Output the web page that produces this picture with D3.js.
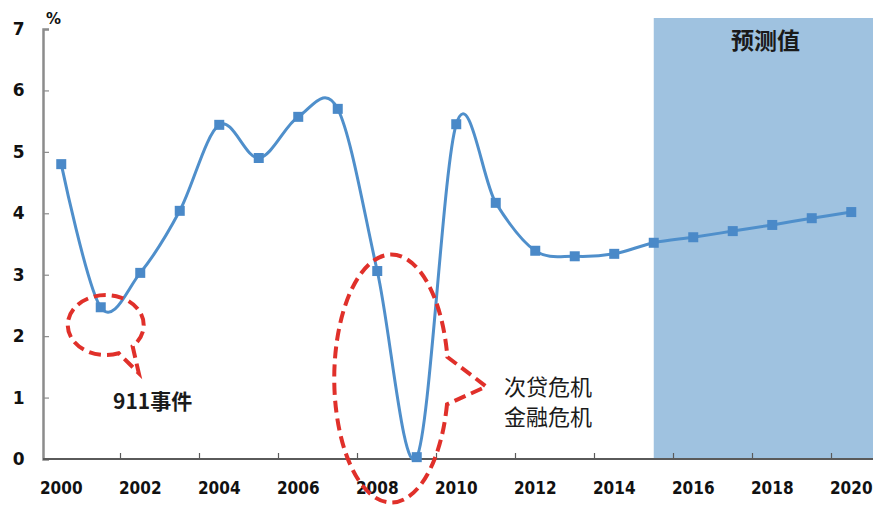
<!DOCTYPE html>
<meta charset="utf-8">
<title>GDP growth</title>
<style>
body { margin: 0; background: #fff; }
.lbl { font-family: "DejaVu Sans Condensed", "DejaVu Sans", sans-serif; font-weight: bold; fill: #111; }
.cn { font-family: "Noto Sans CJK SC", sans-serif; fill: #1a1a1a; }
</style>
<body>
<script src="https://cdn.jsdelivr.net/npm/d3@7"></script>
<script>

var years = d3.range(2000, 2021);
var growth = [4.8, 2.47, 3.03, 4.04, 5.44, 4.9, 5.57, 5.7, 3.06, 0.03, 5.45,
              4.17, 3.39, 3.3, 3.34, 3.52, 3.61, 3.71, 3.81, 3.92, 4.02];
var yTicks = [0, 1, 2, 3, 4, 5, 6, 7];
var xLabels = d3.range(2000, 2021, 2);
var forecastFrom = 2015;

var w = 878, h = 506;

var svg = d3.select("body").append("svg")
    .attr("width", w)
    .attr("height", h);

var x = d3.scaleBand().domain(years).range([41.5, 871]).padding(0);
var bw = x.bandwidth();
var cx = function(yr) { return x(yr) + bw / 2; };
var y = d3.scaleLinear().domain([0, 7]).range([459, 29]);

// forecast shading
svg.append("rect")
    .attr("x", cx(forecastFrom))
    .attr("y", y(7) - 11)
    .attr("width", x.range()[1] + 2 - cx(forecastFrom))
    .attr("height", y(0) - y(7) + 11)
    .attr("fill", "#9fc2e0");

svg.append("text")
    .attr("class", "cn")
    .attr("x", (cx(forecastFrom) + x.range()[1]) / 2 + 3)
    .attr("y", 49)
    .attr("text-anchor", "middle")
    .style("font-size", "23px")
    .style("font-weight", "bold")
    .text("预测值");

// y axis
var yAxis = svg.append("g")
    .attr("transform", "translate(43,0)")
    .call(d3.axisLeft(y).tickValues(yTicks).tickFormat(d3.format("d"))
      .tickSize(-6).tickPadding(15));
yAxis.select(".domain").attr("stroke", "#8c8c8c").attr("stroke-width", 2.5);
yAxis.selectAll(".tick line").attr("stroke", "#8c8c8c").attr("stroke-width", 1.2);
yAxis.selectAll(".tick text")
    .attr("class", "lbl")
    .style("font-family", "DejaVu Sans, sans-serif")
    .style("font-size", "17px")
    .attr("dx", "-0.2em");

svg.append("text")
    .attr("x", 46).attr("y", 24)
    .style("font-family", "DejaVu Sans, sans-serif")
    .style("font-weight", "bold")
    .style("font-size", "15px")
    .attr("fill", "#111")
    .text("%");

// x axis
var xAxisG = svg.append("g")
    .attr("transform", "translate(0," + y(0) + ")");
xAxisG.append("line")
    .attr("x1", 43).attr("x2", x.range()[1] + 2)
    .attr("stroke", "#5a5a5a").attr("stroke-width", 1.8);
xAxisG.selectAll("line.tk")
    .data(years.filter(function(d, i) { return i > 0 && i % 2 === 0; }))
  .enter().append("line")
    .attr("class", "tk")
    .attr("x1", function(d) { return x(d); })
    .attr("x2", function(d) { return x(d); })
    .attr("y1", 0).attr("y2", -6)
    .attr("stroke", "#5a5a5a").attr("stroke-width", 1.2);
xAxisG.selectAll("text")
    .data(xLabels)
  .enter().append("text")
    .attr("class", "lbl")
    .attr("x", cx)
    .attr("y", 35)
    .attr("text-anchor", "middle")
    .style("font-size", "17px")
    .text(function(d) { return d; });

// line
var data = years.map(function(yr, i) { return { year: yr, v: growth[i] }; });
var line = d3.line()
    .x(function(d) { return cx(d.year); })
    .y(function(d) { return y(d.v); })
    .curve(d3.curveCatmullRom.alpha(0));

svg.append("path")
    .datum(data)
    .attr("d", line)
    .attr("fill", "none")
    .attr("stroke", "#4f8fcb")
    .attr("stroke-width", 3);

svg.selectAll("rect.mk")
    .data(data)
  .enter().append("rect")
    .attr("class", "mk")
    .attr("x", function(d) { return cx(d.year) - 5; })
    .attr("y", function(d) { return y(d.v) - 5; })
    .attr("width", 10).attr("height", 10)
    .attr("fill", "#4a89c8");

// speech bubbles
function bubble(c, rx, ry, a1, a2, tip) {
  var r = Math.PI / 180;
  function p(a) { return [c[0] + rx * Math.cos(a * r), c[1] + ry * Math.sin(a * r)]; }
  var s = p(a2), e = p(a1);
  return "M" + s + "A" + rx + "," + ry + " 0 1 1 " + e + "L" + tip + "Z";
}

var b1c = [cx(2001) + 5, y(2.18)];
svg.append("path")
    .attr("d", bubble(b1c, 38, 30, 45, 70, [b1c[0] + 33, b1c[1] + 48]))
    .attr("fill", "none")
    .attr("stroke", "#e0302a")
    .attr("stroke-width", 4)
    .attr("stroke-dasharray", "12,6");

var b2c = [cx(2008) + 14, y(1.31)];
svg.append("path")
    .attr("d", bubble(b2c, 57, 124, -10, 12, [b2c[0] + 95, b2c[1] + 8]))
    .attr("fill", "none")
    .attr("stroke", "#e0302a")
    .attr("stroke-width", 4)
    .attr("stroke-dasharray", "12,6");

svg.append("text")
    .attr("class", "cn")
    .attr("x", 113).attr("y", 409)
    .style("font-size", "21px")
    .style("font-weight", "bold")
    .text("911事件");

svg.append("text")
    .attr("class", "cn")
    .attr("x", 504).attr("y", 395)
    .style("font-size", "22px")
    .text("次贷危机");
svg.append("text")
    .attr("class", "cn")
    .attr("x", 504).attr("y", 425)
    .style("font-size", "22px")
    .text("金融危机");

</script>
